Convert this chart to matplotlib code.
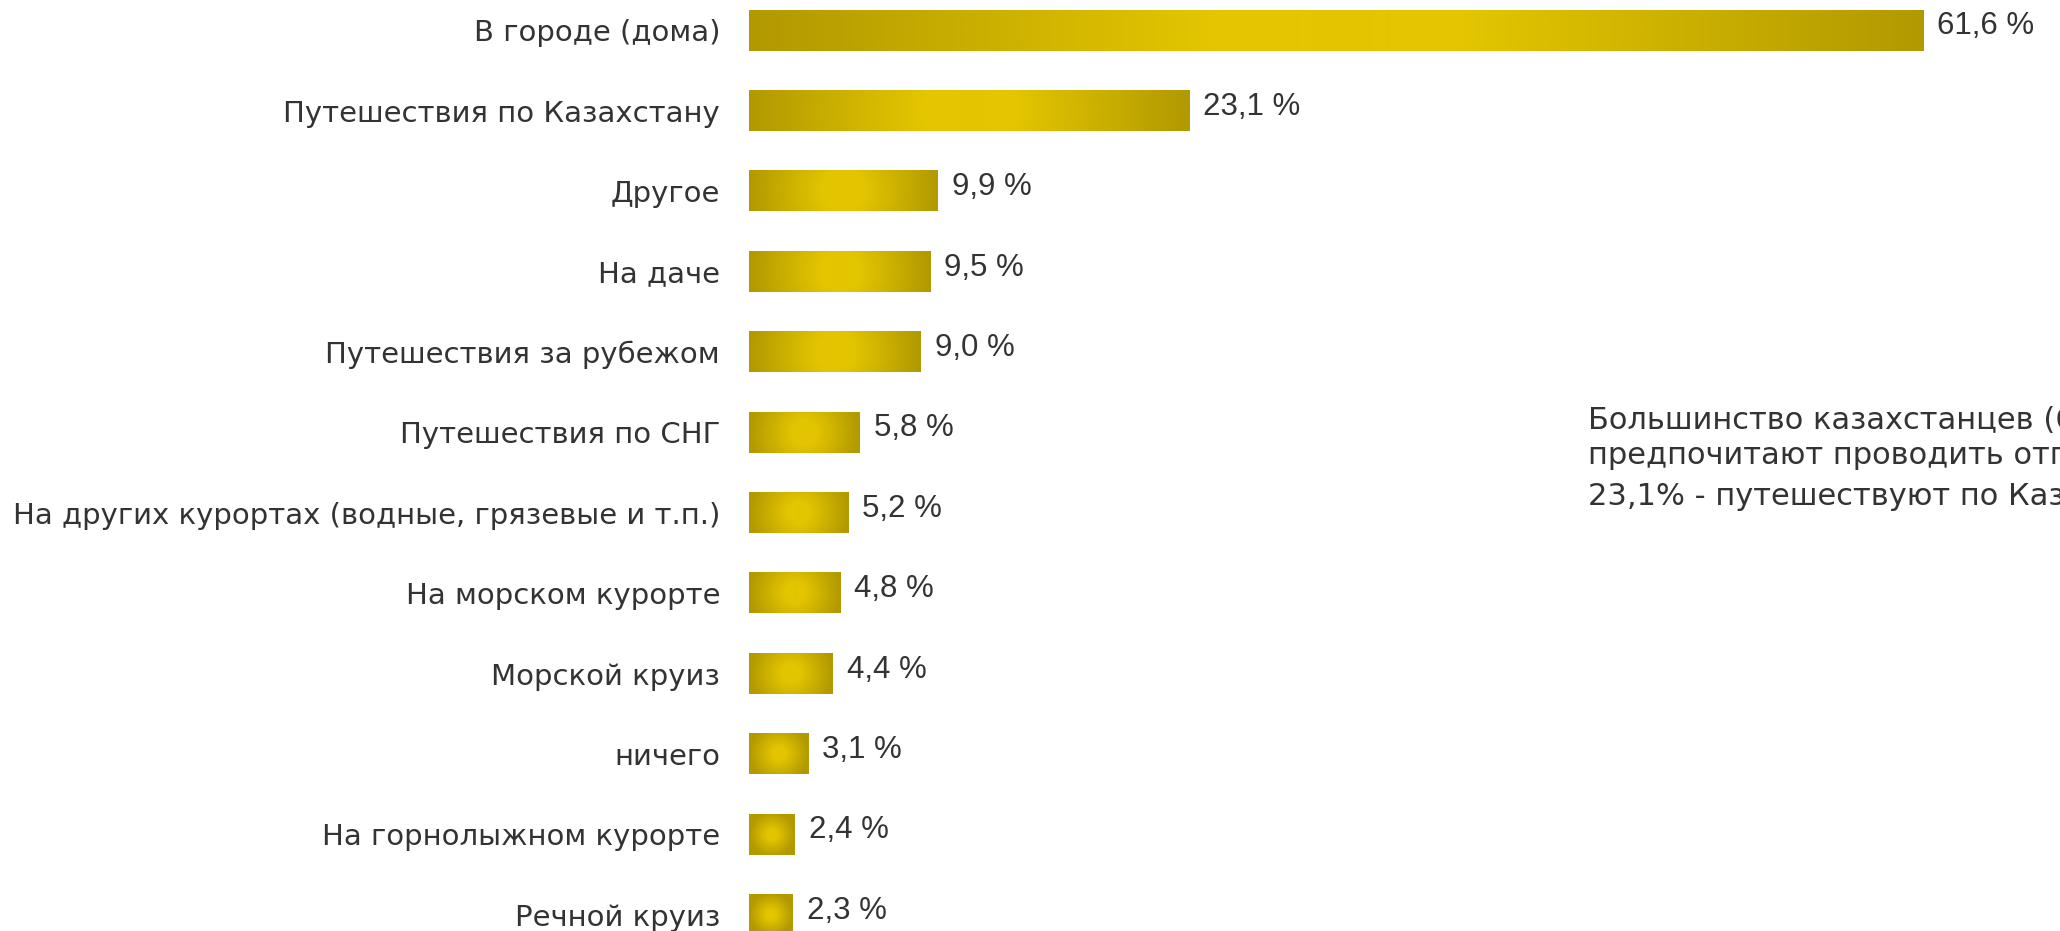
import numpy as np
import matplotlib
matplotlib.use("Agg")
import matplotlib.pyplot as plt
from matplotlib.colors import to_rgb

# =====================
# data
# =====================
categories = [
    "В городе (дома)",
    "Путешествия по Казахстану",
    "Другое",
    "На даче",
    "Путешествия за рубежом",
    "Путешествия по СНГ",
    "На других курортах (водные, грязевые и т.п.)",
    "На морском курорте",
    "Морской круиз",
    "ничего",
    "На горнолыжном курорте",
    "Речной круиз",
]
values = [61.6, 23.1, 9.9, 9.5, 9.0, 5.8, 5.2, 4.8, 4.4, 3.1, 2.4, 2.3]

note_lines = [
    "Большинство казахстанцев (61,6%)",
    "предпочитают проводить отпуск дома,",
    "23,1% - путешествуют по Казахстану",
]

# =====================
# layout (pixels)
# =====================
W, H = 2060, 931
X0 = 749            # left edge of bars
PX_PER_PCT = 19.06
ROW = 80.4          # distance between bars
FIRST = 30.3        # centre of first bar from top
BAR_H = 40.7

DARK = np.array(to_rgb("#b29900"))
BRIGHT = np.array(to_rgb("#e3c500"))
TEXT = "#333333"

fig = plt.figure(figsize=(W / 100, H / 100), dpi=100)
ax = fig.add_axes([X0 / W, 0, 1 - X0 / W, 1])
ax.patch.set_alpha(0)

y = np.arange(len(categories))
bars = ax.barh(y, values, height=BAR_H / ROW, color=DARK, zorder=2)

# radial gradient over every bar
for bar in bars:
    w = bar.get_width() * PX_PER_PCT
    h = BAR_H
    nx, ny = max(int(round(w)), 2), max(int(round(h)), 2)
    xs = np.linspace(-w / 2, w / 2, nx)
    ys = np.linspace(-h / 2, h / 2, ny)
    gx, gy = np.meshgrid(xs, ys)
    r = np.hypot(gx, gy) / (w / 2)
    t = np.clip((r - 0.22) / 0.78, 0, 1)[..., None]
    img = BRIGHT * (1 - t) + DARK * t
    x0 = bar.get_x()
    y0 = bar.get_y()
    ax.imshow(img, extent=(x0, x0 + bar.get_width(), y0 + bar.get_height(), y0),
              aspect="auto", interpolation="bilinear", zorder=3)

ax.set_xlim(0, (W - X0) / PX_PER_PCT)
ax.set_ylim((H - FIRST) / ROW, -FIRST / ROW)

ax.set_yticks(y, categories)
ax.tick_params(axis="y", length=0, pad=29 * 0.72, labelsize=21, labelcolor=TEXT)
ax.set_xticks([])
for s in ax.spines.values():
    s.set_visible(False)

# value labels
for i, v in enumerate(values):
    label = f"{v:.1f}".replace(".", ",") + " %"
    ax.annotate(label, xy=(v, i), xytext=(14 * 0.72, 4 * 0.72),
                textcoords="offset points", ha="left", va="center",
                fontsize=22.5, family="Liberation Sans", color=TEXT, zorder=4)

# note on the right (runs past the right edge, as in the original)
for line, base in zip(note_lines, [429, 464, 505]):
    fig.text(1588 / W, 1 - base / H, line, ha="left", va="baseline",
             fontsize=22, color=TEXT)

fig.savefig("out.png", dpi=100)
plt.close(fig)
